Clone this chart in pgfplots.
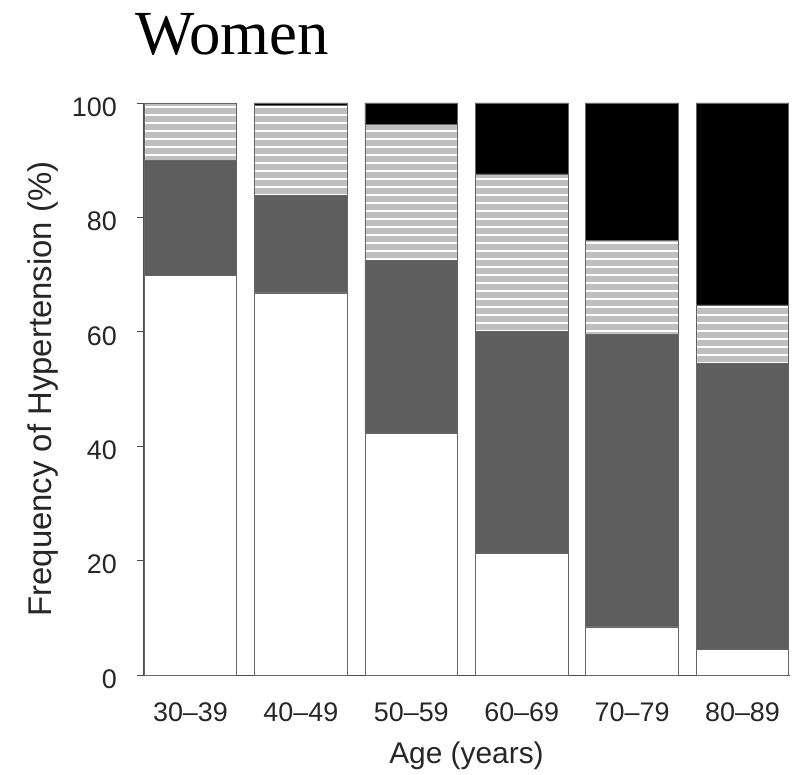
\documentclass[border=0pt]{standalone}
\usepackage{fontspec}
\setmainfont{Liberation Sans}
\newfontfamily\seriffont{Liberation Serif}
\usepackage{pgfplots}
\pgfplotsset{compat=1.18}
\usetikzlibrary{patterns.meta}
\begin{document}
\begin{tikzpicture}
\begin{axis}[
  scale only axis,
  width=647bp, height=572bp,
  ybar stacked,
  bar width=0.84,
  xmin=-0.43, xmax=5.43,
  ymin=0, ymax=100,
  xtick=data,
  xticklabels={30--39,40--49,50--59,60--69,70--79,80--89},
  ytick={0,20,40,60,80,100},
  axis x line=bottom, axis y line=left,
  axis line style={black!70, line width=0.8bp, -},
  x tick style={draw=none},
  y tick style={black!70, line width=0.8bp},
  tick align=outside, major tick length=6bp,
  /pgf/number format/assume math mode=true,
  tick label style={font=\fontsize{27}{30}\selectfont, text=black!85},
  xticklabel style={anchor=base, yshift=-40bp},
  yticklabel style={anchor=east, inner sep=0pt, xshift=-20bp, yshift=-4bp},
  xlabel={Age (years)},
  ylabel={Frequency of Hypertension (\%)},
  label style={text=black!85},
  xlabel style={font=\fontsize{30}{34}\selectfont, at={([yshift=-88bp]axis description cs:0.5,0)}, anchor=base},
  ylabel style={font=\fontsize{33}{36}\selectfont, at={([xshift=-100bp]axis description cs:0,0.5)}, anchor=center},
  every axis plot/.append style={draw=black!60, line width=0.8bp},
]
\addplot[fill=white] coordinates {(0,69.8) (1,66.8) (2,42.3) (3,21.3) (4,8.4) (5,4.5)};
\addplot[fill=black!63] coordinates {(0,20.2) (1,17.1) (2,30.1) (3,38.8) (4,51.2) (5,49.9)};
\addplot[pattern={Lines[angle=0,distance=8bp,line width=5.5bp]}, pattern color=black!25] coordinates {(0,10) (1,15.6) (2,23.8) (3,27.5) (4,16.4) (5,10.3)};
\addplot[fill=black] coordinates {(0,0) (1,0.5) (2,3.8) (3,12.4) (4,24) (5,35.3)};
\end{axis}
\node[anchor=base west, inner sep=0pt, font=\seriffont\fontsize{63}{70}\selectfont] at ([xshift=-8bp,yshift=48bp]current axis.north west) {Women};
\path[use as bounding box] ([xshift=-143bp,yshift=-100bp]current axis.south west) rectangle ([xshift=5bp,yshift=103bp]current axis.north east);
\end{tikzpicture}
\end{document}
